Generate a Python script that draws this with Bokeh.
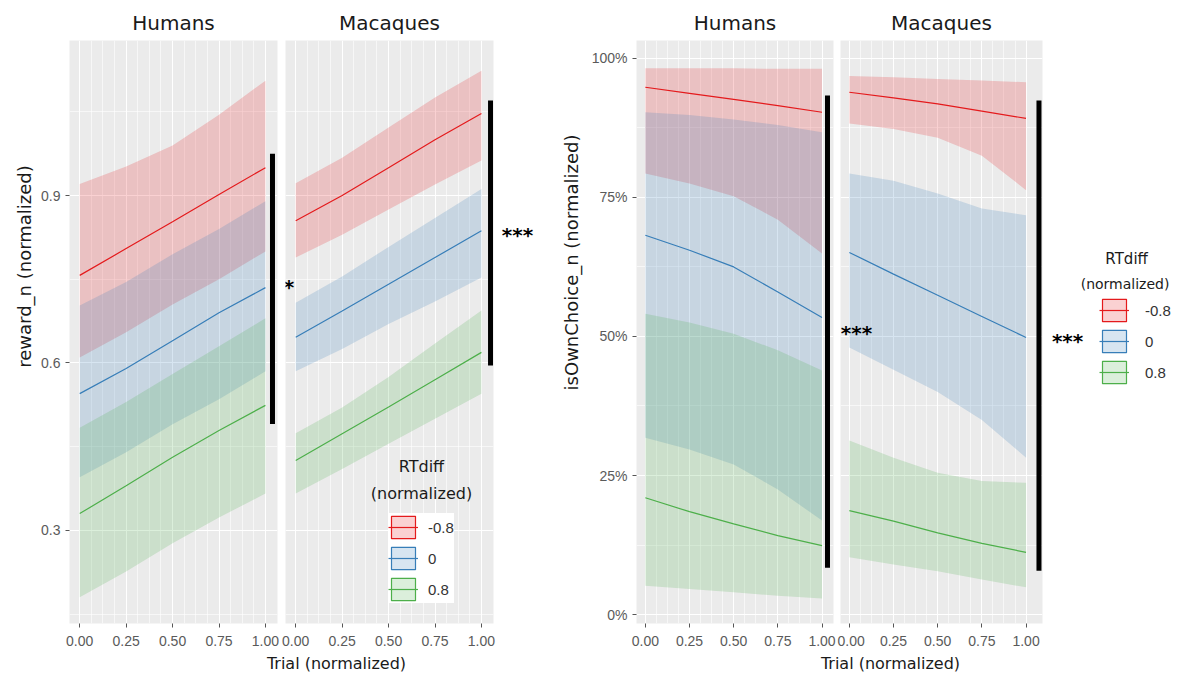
import math
import numpy as np
from bokeh.plotting import figure
from bokeh.layouts import row, column
from bokeh.models import FixedTicker, NumeralTickFormatter, Label, Legend, LegendItem
from bokeh.embed import file_html
from bokeh.resources import INLINE

# ---------------- data ----------------
trial = [0.0, 0.25, 0.5, 0.75, 1.0]
levels = ["-0.8", "0", "0.8"]
colors = ["#E41A1C", "#377EB8", "#4DAF4A"]

# reward_n (normalized) - Humans
rew_hum_fit = {"-0.8": [0.757, 0.805, 0.853, 0.902, 0.950],
               "0":    [0.545, 0.590, 0.640, 0.690, 0.735],
               "0.8":  [0.330, 0.380, 0.431, 0.479, 0.524]}
rew_hum_lo = {"-0.8": [0.610, 0.655, 0.705, 0.750, 0.800],
              "0":    [0.395, 0.440, 0.490, 0.535, 0.585],
              "0.8":  [0.180, 0.226, 0.277, 0.323, 0.366]}
rew_hum_hi = {"-0.8": [0.921, 0.952, 0.990, 1.045, 1.106],
              "0":    [0.703, 0.745, 0.795, 0.840, 0.890],
              "0.8":  [0.484, 0.530, 0.580, 0.630, 0.680]}

# reward_n (normalized) - Macaques
rew_mac_fit = {"-0.8": [0.855, 0.900, 0.950, 1.000, 1.047],
               "0":    [0.646, 0.693, 0.741, 0.789, 0.837],
               "0.8":  [0.425, 0.473, 0.521, 0.570, 0.619]}
rew_mac_lo = {"-0.8": [0.789, 0.830, 0.875, 0.920, 0.963],
              "0":    [0.585, 0.625, 0.670, 0.710, 0.753],
              "0.8":  [0.366, 0.410, 0.455, 0.500, 0.545]}
rew_mac_hi = {"-0.8": [0.922, 0.968, 1.022, 1.076, 1.124],
              "0":    [0.708, 0.755, 0.808, 0.860, 0.912],
              "0.8":  [0.474, 0.520, 0.575, 0.635, 0.694]}

# isOwnChoice_n (normalized) - Humans
own_hum_fit = {"-0.8": [0.948, 0.937, 0.926, 0.915, 0.903],
               "0":    [0.682, 0.655, 0.625, 0.580, 0.534],
               "0.8":  [0.210, 0.185, 0.163, 0.142, 0.124]}
own_hum_lo = {"-0.8": [0.793, 0.775, 0.752, 0.710, 0.649],
              "0":    [0.318, 0.297, 0.270, 0.225, 0.169],
              "0.8":  [0.052, 0.046, 0.040, 0.034, 0.029]}
own_hum_hi = {"-0.8": [0.982, 0.982, 0.982, 0.981, 0.981],
              "0":    [0.903, 0.898, 0.890, 0.880, 0.867],
              "0.8":  [0.541, 0.525, 0.505, 0.475, 0.439]}

# isOwnChoice_n (normalized) - Macaques
own_mac_fit = {"-0.8": [0.939, 0.929, 0.918, 0.905, 0.892],
               "0":    [0.651, 0.612, 0.574, 0.536, 0.498],
               "0.8":  [0.187, 0.168, 0.147, 0.128, 0.112]}
own_mac_lo = {"-0.8": [0.883, 0.873, 0.857, 0.825, 0.763],
              "0":    [0.480, 0.440, 0.400, 0.350, 0.282],
              "0.8":  [0.103, 0.090, 0.078, 0.063, 0.049]}
own_mac_hi = {"-0.8": [0.968, 0.966, 0.963, 0.960, 0.957],
              "0":    [0.793, 0.780, 0.757, 0.730, 0.718],
              "0.8":  [0.313, 0.282, 0.255, 0.240, 0.237]}

x_ticks = [0.0, 0.25, 0.5, 0.75, 1.0]
x_minor = [k / 16 for k in range(1, 16) if k % 4 != 0]
rew_ticks = [0.3, 0.6, 0.9]
rew_minor = [0.15, 0.45, 0.75, 1.05]
own_ticks = [0.0, 0.25, 0.5, 0.75, 1.0]
own_minor = [0.125, 0.375, 0.625, 0.875]

TITLE_FONT = "DejaVu Sans"
TICK_FONT = "Liberation Sans"
FIG_H = 652
MB_TOP = 40
MB_BOT = 29


def facet(width, mb_left, mb_right, xr, yr, fit, lo, hi, strip,
          yticks, yminor, yfmt, show_y):
    p = figure(width=width, height=FIG_H, x_range=xr, y_range=yr,
               toolbar_location=None, output_backend="svg",
               min_border_left=mb_left, min_border_right=mb_right,
               min_border_top=MB_TOP, min_border_bottom=MB_BOT,
               background_fill_color="#EBEBEB", border_fill_color="white",
               outline_line_color=None)
    p.title.text = strip
    p.title.align = "center"
    p.title.text_font = TITLE_FONT
    p.title.text_font_size = "20px"
    p.title.text_font_style = "normal"
    p.title.text_color = "#1a1a1a"
    p.title.standoff = 11
    # axes
    p.xaxis.ticker = FixedTicker(ticks=x_ticks, minor_ticks=x_minor)
    p.xaxis.formatter = NumeralTickFormatter(format="0.00")
    p.yaxis.ticker = FixedTicker(ticks=yticks, minor_ticks=yminor)
    p.yaxis.formatter = NumeralTickFormatter(format=yfmt)
    for ax in (p.xaxis, p.yaxis):
        ax.axis_line_color = None
        ax.major_tick_out = 4
        ax.major_tick_in = 0
        ax.minor_tick_out = 0
        ax.minor_tick_in = 0
        ax.major_tick_line_color = "#555555"
        ax.major_label_text_font = TICK_FONT
        ax.major_label_text_font_size = "14px"
        ax.major_label_text_color = "#5a5a5a"
        ax.major_label_standoff = 5
    p.xaxis.major_label_standoff = 8
    if not show_y:
        p.yaxis.visible = False
    for g in (p.xgrid, p.ygrid):
        g.grid_line_color = "white"
        g.grid_line_width = 1.1
        g.minor_grid_line_color = "white"
        g.minor_grid_line_width = 0.6
    # ribbons first, then fitted lines
    for lvl, c in zip(levels, colors):
        p.varea(x=trial, y1=lo[lvl], y2=hi[lvl], fill_color=c, fill_alpha=0.2)
    for lvl, c in zip(levels, colors):
        p.line(x=trial, y=fit[lvl], line_color=c, line_width=1.2)
    return p


def side(width, xr, yr):
    """White area beside a facet (keeps annotations, titles and legend)."""
    s = figure(width=width, height=FIG_H, x_range=xr, y_range=yr,
               toolbar_location=None, output_backend="svg",
               min_border_left=0, min_border_right=0,
               min_border_top=MB_TOP, min_border_bottom=MB_BOT,
               x_axis_type=None, y_axis_type=None, outline_line_color=None,
               background_fill_color="white", border_fill_color="white")
    return s


def ytitle(width, cx, cy, s):
    t = side(width, (0, 1), (0, 1))
    t.add_layout(Label(x=cx, y=cy, x_units="screen", y_units="screen",
                       text=s, angle=math.pi / 2, text_font=TITLE_FONT,
                       text_font_size="18px", text_color="#1a1a1a",
                       text_align="center", text_baseline="middle"))
    return t


def add_legend(p, loc, standoff):
    nan = np.array([np.nan])
    items = []
    for lvl, c in zip(levels, colors):
        key = p.quad(left=nan, right=nan, top=nan, bottom=nan, fill_color=c,
                     fill_alpha=0.2, line_color=c, line_width=1.2)
        ln = p.line(x=nan, y=nan, line_color=c, line_width=1.2)
        items.append(LegendItem(label=lvl, renderers=[key, ln]))
    leg = Legend(items=items, location=loc, orientation="vertical",
                 glyph_width=30, glyph_height=28, spacing=3, padding=3,
                 margin=0, label_standoff=standoff, label_text_font=TICK_FONT,
                 label_text_font_size="15px", label_text_color="#333333",
                 background_fill_color="white", background_fill_alpha=1,
                 border_line_color=None)
    p.add_layout(leg)


def text(p, x, y, s, size, bold=False, yoff=0):
    p.add_layout(Label(x=x, y=y, text=s, text_font=TITLE_FONT,
                       text_font_size=size,
                       text_font_style="bold" if bold else "normal",
                       text_color="#000000" if bold else "#1a1a1a",
                       text_align="center", text_baseline="middle",
                       y_offset=yoff))


def bar(p, x, y0, y1):
    p.segment(x0=[x], y0=[y0], x1=[x], y1=[y1], line_color="black",
              line_width=5)


def continue_range(xr, frame_px, left_px, right_px, new_left, new_right):
    """x-range of a neighbouring area on the same horizontal scale."""
    upp = (xr[1] - xr[0]) / frame_px
    return (xr[0] + (new_left - left_px) * upp,
            xr[0] + (new_right - left_px) * upp)


# ---------------- left plot: reward ----------------
rew_xr = (-0.055, 1.065)
rew_yr = (0.133, 1.178)
LY = ytitle(38, 24, 357, "reward_n (normalized)")
LH = facet(243, 31, 4, rew_xr, rew_yr, rew_hum_fit, rew_hum_lo, rew_hum_hi,
           "Humans", rew_ticks, rew_minor, "0.0", True)
bar(LH, 1.038, 0.975, 0.4906)

LM = facet(218, 4, 6, rew_xr, rew_yr, rew_mac_fit, rew_mac_lo, rew_mac_hi,
           "Macaques", rew_ticks, rew_minor, "0.0", False)
bar(LM, 1.049, 1.0705, 0.5956)
text(LM, -0.036, 0.739, "*", "20px", bold=True, yoff=-2)
text(LM, 0.677, 0.415, "RTdiff", "16px")
text(LM, 0.677, 0.366, "(normalized)", "16px")
add_legend(LM, (103, 20), 10)

LS = side(47, continue_range(rew_xr, 208, 285, 493, 499, 546), rew_yr)
text(LS, 1.194, 0.830, "***", "20px", bold=True)

# ---------------- right plot: isOwnChoice ----------------
own_yr = (-0.016, 1.032)
RY = ytitle(38, 25, 361, "isOwnChoice_n (normalized)")
RH = facet(253, 52, 4, (-0.05, 1.065), own_yr, own_hum_fit, own_hum_lo,
           own_hum_hi, "Humans", own_ticks, own_minor, "0%", True)
bar(RH, 1.031, 0.933, 0.084)

own_mac_xr = (-0.05, 1.093)
RM = facet(209, 3, 4, own_mac_xr, own_yr, own_mac_fit, own_mac_lo,
           own_mac_hi, "Macaques", own_ticks, own_minor, "0%", False)
bar(RM, 1.073, 0.924, 0.0787)
text(RM, 0.04, 0.507, "***", "20px", bold=True)

RS = side(130, continue_range(own_mac_xr, 202, 840, 1042, 1046, 1176), own_yr)
text(RS, 1.235, 0.492, "***", "20px", bold=True)
text(RS, 1.569, 0.640, "RTdiff", "15px")
text(RS, 1.560, 0.595, "(normalized)", "14px")
add_legend(RS, (53, 237), 16)


# ---------------- shared x-axis titles ----------------
def xtitle(width, cx):
    t = figure(width=width, height=24, x_range=(0, 1), y_range=(0, 1),
               toolbar_location=None, output_backend="svg", min_border=0,
               x_axis_type=None, y_axis_type=None, outline_line_color=None,
               background_fill_color="white", border_fill_color="white")
    t.add_layout(Label(x=cx, y=13, x_units="screen", y_units="screen",
                       text="Trial (normalized)", text_font=TITLE_FONT,
                       text_font_size="16px", text_color="#1a1a1a",
                       text_align="center", text_baseline="middle"))
    return t


XL = xtitle(38 + 243 + 218 + 47, 336)
XR = xtitle(38 + 253 + 209 + 130, 890 - 546)

layout = row(column(row(LY, LH, LM, LS), XL),
             column(row(RY, RH, RM, RS), XR))

with open("out.html", "w") as f:
    f.write(file_html(layout, INLINE))
